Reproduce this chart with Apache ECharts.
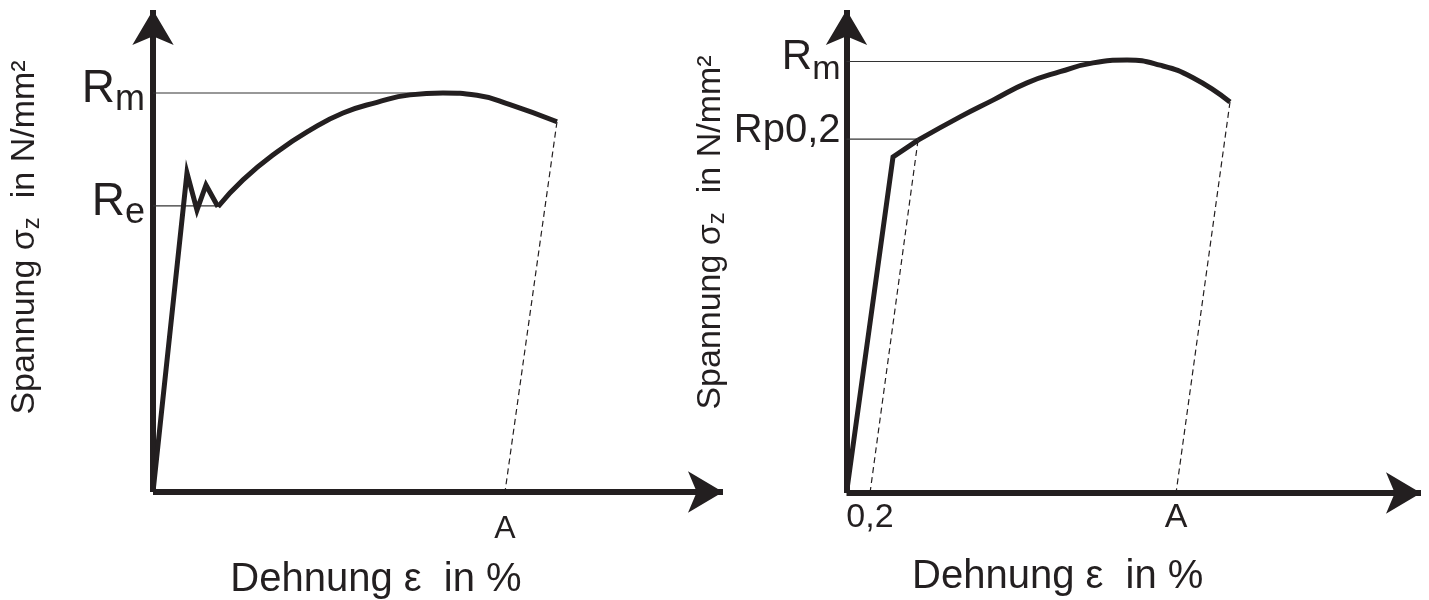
<!DOCTYPE html>
<html>
<head>
<meta charset="utf-8">
<script src="https://cdn.jsdelivr.net/npm/echarts@6/dist/echarts.min.js"></script>
<style>html,body{margin:0;padding:0;background:#fff}#c{width:1429px;height:600px}</style>
</head>
<body>
<div id="c"></div>
<script>
// ---- data (relative units) ----
// left diagram: Streckgrenze Re
const LEFT_YIELD = [[0,0],[6.15,68.7],[7.96,60.7],[9.59,66.1],[11.76,61.4]];
const LEFT_CURVE = [[11.76,61.4],[16.29,67.2],[22.44,73.2],[28.42,77.9],[34.39,81.6],[40.54,83.9],[46.52,85.5],[52.49,85.9],[58.64,85.4],[64.62,83.4],[73.12,79.7]];
const LEFT_RM_LINE = [[0,85.9],[52.49,85.9]];
const LEFT_RE_LINE = [[0,61.6],[11.76,61.6]];
const LEFT_DASH = [[73.12,79.7],[63.71,0]];
const LEFT_Y_TICKS = [85.9, 61.6];
const LEFT_Y_MAIN = ['R','R'];
const LEFT_Y_SUB = ['m','e'];
const LEFT_X_TICKS = [63.71];
const LEFT_X_LABELS = ['A'];
const LEFT_X_MAX = 103.17, LEFT_Y_MAX = 103.77;

// right diagram: Dehngrenze Rp0,2
const RIGHT_ELASTIC = [[0,0],[8.35,72.2],[12.84,75.8]];
const RIGHT_CURVE = [[12.84,75.8],[20.38,80.8],[26.3,84.4],[32.41,88.1],[38.33,90.5],[44.26,92.4],[50.36,93.0],[56.28,91.9],[62.2,89.2],[68.85,84.0]];
const RIGHT_RM_LINE = [[0,92.7],[49,92.7]];
const RIGHT_RP_LINE = [[0,76.0],[12.84,76.0]];
const RIGHT_DASH1 = [[12.84,75.8],[4.22,0]];
const RIGHT_DASH2 = [[68.85,84.0],[59.16,0]];
const RIGHT_Y_TICKS = [92.7, 76.0];
const RIGHT_Y_LABELS = ['{R|R}{s|m}', '{p|Rp0,2}'];
const RIGHT_X_TICKS = [4.22, 59.16];
const RIGHT_X_LABELS = ['0,2', 'A'];
const RIGHT_X_MAX = 103.14, RIGHT_Y_MAX = 103.76;

const Y_NAME = 'Spannung {g|σ}{z|z}  in N/mm²';
const X_NAME = 'Dehnung ε  in %';

// ---- styles ----
const INK = '#231f20';
const FONT = 'Liberation Sans';

function pick(ticks, labels) {
  return function (v) {
    let best = 0, d = Infinity;
    ticks.forEach((t, i) => { const e = Math.abs(t - v); if (e < d) { d = e; best = i; } });
    return labels[best];
  };
}

function axisLine() {
  return { show: true, symbol: ['none', 'arrow'], symbolSize: [31, 35],
    lineStyle: { color: INK, width: 6, cap: 'butt' } };
}

function yName(shift) {
  return {
    fontFamily: FONT, fontSize: 34, color: INK, lineHeight: 34, padding: [0, 0, 0, shift],
    rich: {
      g: { fontFamily: FONT, fontSize: 34, color: INK, lineHeight: 34 },
      z: { fontFamily: FONT, fontSize: 24, color: INK, lineHeight: 34, padding: [14, 0, 0, 0] }
    }
  };
}

const leftYLabels = LEFT_Y_MAIN.map((m, i) => '{R|' + m + '}{s|' + LEFT_Y_SUB[i] + '}');

const thick = (data, smooth, xi) => ({
  type: 'line', xAxisIndex: xi, yAxisIndex: xi, data, smooth, symbol: 'none', silent: true,
  lineStyle: { color: INK, width: 5, join: 'miter', miterLimit: 20 }, z: 5
});
const thin = (data, xi) => ({
  type: 'line', xAxisIndex: xi, yAxisIndex: xi, data, symbol: 'none', silent: true,
  lineStyle: { color: '#333', width: 1.2 }, z: 3
});
const dash = (data, xi) => ({
  type: 'line', xAxisIndex: xi, yAxisIndex: xi, data, symbol: 'none', silent: true,
  lineStyle: { color: INK, width: 1.2, type: [6, 4] }, z: 3
});

const option = {
  animation: false,
  backgroundColor: '#fff',
  grid: [
    { left: 153, top: 10, width: 570, height: 482, containLabel: false, outerBoundsMode: 'none' },
    { left: 846.5, top: 10, width: 574.5, height: 483, containLabel: false, outerBoundsMode: 'none' }
  ],
  xAxis: [
    {
      gridIndex: 0, type: 'value', min: 0, max: LEFT_X_MAX,
      axisLine: axisLine(), axisTick: { show: false }, splitLine: { show: false },
      axisLabel: { customValues: LEFT_X_TICKS, formatter: pick(LEFT_X_TICKS, LEFT_X_LABELS),
        fontFamily: FONT, fontSize: 32, color: INK, margin: 21, lineHeight: 32 },
      name: X_NAME, nameLocation: 'middle', nameGap: 68,
      nameTextStyle: { fontFamily: FONT, fontSize: 40, color: INK, lineHeight: 40, padding: [0, 124, 0, 0] }
    },
    {
      gridIndex: 1, type: 'value', min: 0, max: RIGHT_X_MAX,
      axisLine: axisLine(), axisTick: { show: false }, splitLine: { show: false },
      axisLabel: { customValues: RIGHT_X_TICKS, formatter: pick(RIGHT_X_TICKS, RIGHT_X_LABELS),
        fontFamily: FONT, fontSize: 34, color: INK, margin: 8, lineHeight: 34 },
      name: X_NAME, nameLocation: 'middle', nameGap: 64,
      nameTextStyle: { fontFamily: FONT, fontSize: 40, color: INK, lineHeight: 40, padding: [0, 152, 0, 0] }
    }
  ],
  yAxis: [
    {
      gridIndex: 0, type: 'value', min: 0, max: LEFT_Y_MAX,
      axisLine: axisLine(), axisTick: { show: false }, splitLine: { show: false },
      axisLabel: { customValues: LEFT_Y_TICKS, formatter: pick(LEFT_Y_TICKS, leftYLabels),
        margin: 8, padding: [0, 0, 8, 0],
        rich: {
          R: { fontFamily: FONT, fontSize: 46, lineHeight: 46, color: INK },
          s: { fontFamily: FONT, fontSize: 36, lineHeight: 46, color: INK, padding: [23, 0, 0, 0] }
        } },
      name: Y_NAME, nameLocation: 'middle', nameRotate: 90, nameGap: 111,
      nameTextStyle: yName(27)
    },
    {
      gridIndex: 1, type: 'value', min: 0, max: RIGHT_Y_MAX,
      axisLine: axisLine(), axisTick: { show: false }, splitLine: { show: false },
      axisLabel: { customValues: RIGHT_Y_TICKS, formatter: pick(RIGHT_Y_TICKS, RIGHT_Y_LABELS),
        margin: 6, padding: [0, 0, 8, 0],
        rich: {
          R: { fontFamily: FONT, fontSize: 42, lineHeight: 42, color: INK },
          s: { fontFamily: FONT, fontSize: 34, lineHeight: 42, color: INK, padding: [24, 0, 0, 0] },
          p: { fontFamily: FONT, fontSize: 40, lineHeight: 40, color: INK, padding: [0, 0, 8, 0] }
        } },
      name: Y_NAME, nameLocation: 'middle', nameRotate: 90, nameGap: 113,
      nameTextStyle: yName(38)
    }
  ],
  series: [
    thin(LEFT_RM_LINE, 0), thin(LEFT_RE_LINE, 0), dash(LEFT_DASH, 0),
    thick(LEFT_YIELD, false, 0), thick(LEFT_CURVE, true, 0),
    thin(RIGHT_RM_LINE, 1), thin(RIGHT_RP_LINE, 1), dash(RIGHT_DASH1, 1), dash(RIGHT_DASH2, 1),
    thick(RIGHT_ELASTIC, false, 1), thick(RIGHT_CURVE, true, 1)
  ]
};

echarts.init(document.getElementById('c'), null, { renderer: 'canvas' }).setOption(option);
</script>
</body>
</html>
